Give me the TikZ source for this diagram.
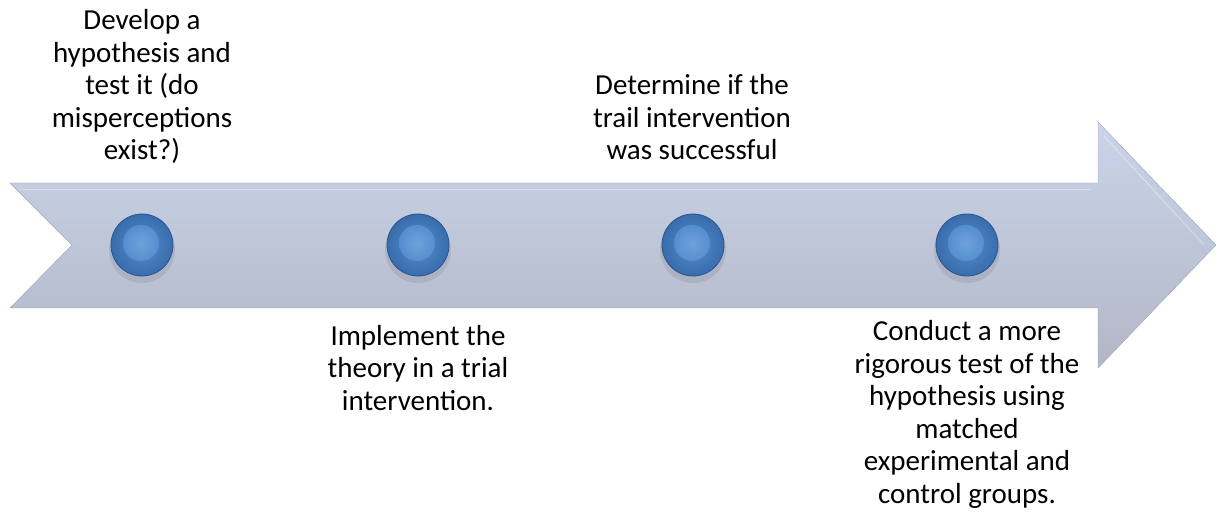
\documentclass[tikz,border=0pt]{standalone}
\usepackage{fontspec}
\setmainfont{Carlito}
\usepackage{tikz}
\definecolor{arrowtop}{HTML}{CAD4E9}
\definecolor{arrowbot}{HTML}{B2B7C6}
\definecolor{dotblue}{HTML}{3F78BE}
\definecolor{dotdark}{HTML}{2A5690}
\definecolor{dotlight}{HTML}{5B95D6}
\tikzset{
  dot/.style={circle,minimum size=62pt,inner sep=0pt,draw=dotdark,line width=0.8pt,
    inner color=dotlight!80!dotblue,outer color=dotblue!90!black},
  steptext/.style={align=center,inner sep=0pt,anchor=base,
    font=\fontsize{29}{32.5}\selectfont}
}

\begin{document}
\begin{tikzpicture}[x=1pt,y=-1pt]
\useasboundingbox (0,0) rectangle (1218,518);

\shade[top color=arrowtop,bottom color=arrowbot,draw=arrowbot!90!black,line width=0.4pt]
  (10,183) -- (1098,183) -- (1098,122) -- (1216,245) -- (1098,368) -- (1098,308)
  -- (10,308) -- (72,245) -- cycle;
\draw[white,opacity=0.35,line width=1pt] (20,190) -- (1091,190);
\draw[white,opacity=0.35,line width=1pt] (1104,136) -- (1204,245);

\foreach \x [count=\i] in {142,418,693,967}{
  \fill[black,opacity=0.08] (\x,250) circle (33);
  \node[dot] (d\i) at (\x,245) {};
  \shade[inner color=dotlight!85!white,outer color=dotlight!90!dotblue,opacity=0.85]
    ([xshift=-1pt,yshift=2pt]d\i.center) circle (18);
}

\node[steptext] (t1) at (142,160) {Develop a\\hypothesis and\\test it (do\\misperceptions\\exist?)};
\node[steptext] (t2) at (418,410) {Implement the\\theory in a trial\\intervention.};
\node[steptext] (t3) at (692,160) {Determine if the\\trail intervention\\was successful};
\node[steptext] (t4) at (967,503) {Conduct a more\\rigorous test of the\\hypothesis using\\matched\\experimental and\\control groups.};

\end{tikzpicture}
\end{document}
